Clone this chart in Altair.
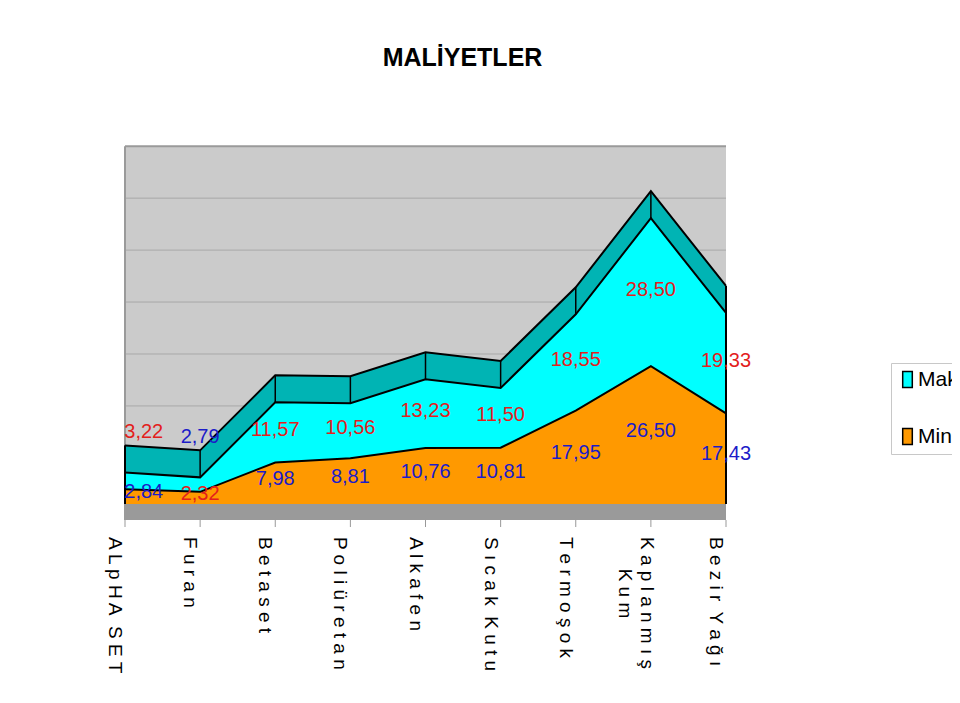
import altair as alt
import pandas as pd

# ---------------- data ----------------
categories = ["ALpHA SET", "Furan", "Betaset", "Poliüretan", "Alkafen",
              "Sıcak Kutu", "Termoşok", "Kaplanmış Kum", "Bezir Yağı"]
maks = [3.22, 2.79, 11.57, 10.56, 13.23, 11.50, 18.55, 28.50, 19.33]
minv = [2.84, 2.32, 7.98, 8.81, 10.76, 10.81, 17.95, 26.50, 17.43]
maks_label_color = ["red", "blue", "red", "red", "red", "red", "red", "red", "red"]
min_label_color = ["blue", "red", "blue", "blue", "blue", "blue", "blue", "blue", "blue"]
wrapped = {"Kaplanmış Kum"}

# ---------------- style constants ----------------
ARIAL = "Liberation Sans, Arial, sans-serif"
CYAN, ORANGE, TEAL = "#00FFFF", "#FF9900", "#00B4B4"
RED, BLUE = "#E3201C", "#1C1CC8"
FACE = 5.2       # depth of the series top face (value units)
WALL0 = 8.86     # back-wall zero level (value units)
FLOOR = -3.1
TOP = WALL0 + 60
N = len(categories)
W, H = 601, 374
NB = "\u00a0"
ZW = "\u200b"

idx = list(range(N))
total = [a + b for a, b in zip(minv, maks)]
df = pd.DataFrame({"idx": idx, "min": minv, "maks": maks, "total": total,
                   "face": [t + FACE for t in total]})

bands = pd.DataFrame(
    [{"idx": i, "series": "Min", "lo": 0.0, "hi": minv[i]} for i in idx] +
    [{"idx": i, "series": "Maks", "lo": minv[i], "hi": total[i]} for i in idx])


def spaced(s):
    return (NB + " ").join(" ".join(w) for w in s.split(" "))


def axis_text(c):
    if c in wrapped:
        lines = [" ".join(w) for w in c.split(" ")]
        longest = max(len(l) for l in lines)
        return "\n".join(ZW + NB * ((longest - len(l)) // 2) + l for l in lines)
    return spaced(c)


cats = pd.DataFrame({"idx": idx, "lab": [axis_text(c) for c in categories],
                     "multi": [c in wrapped for c in categories]})

cmap = {"red": RED, "blue": BLUE}
lab_rows = []
for i in idx:
    shift = 0.25 if i == 0 else 0.0
    if maks[i] >= 5:
        my = minv[i] + maks[i] / 2 + 0.5
    else:
        my = total[i] + FACE + 2.5
    lab_rows.append({"x": i + shift, "y": my, "t": f"{maks[i]:.2f}".replace(".", ","),
                     "c": cmap[maks_label_color[i]]})
    lab_rows.append({"x": i + shift, "y": minv[i] / 2 + 0.8,
                     "t": f"{minv[i]:.2f}".replace(".", ","), "c": cmap[min_label_color[i]]})
labels = pd.DataFrame(lab_rows)

grid = pd.DataFrame({"g": [WALL0 + 10 * k for k in range(1, 6)]})
frame = pd.DataFrame({"x0": [0], "x1": [N - 1], "w0": [WALL0], "w1": [TOP],
                      "f0": [FLOOR], "f1": [0.0]})

xs = alt.Scale(domain=[0, N - 1], nice=False, zero=False)
ys = alt.Scale(domain=[FLOOR, 68.9], nice=False, zero=False)

wall = alt.Chart(frame).mark_rect(color="#CBCBCB").encode(
    x=alt.X("x0:Q", scale=xs, axis=None), x2="x1:Q",
    y=alt.Y("w0:Q", scale=ys, axis=None), y2="w1:Q")
wall_top = alt.Chart(frame).mark_rule(color="#9A9A9A", strokeWidth=2).encode(
    x=alt.X("x0:Q", axis=None), x2="x1:Q", y=alt.Y("w1:Q", axis=None))
wall_left = alt.Chart(frame).mark_rule(color="#9A9A9A", strokeWidth=2).encode(
    x=alt.X("x0:Q", axis=None), y=alt.Y("f0:Q", axis=None), y2="w1:Q")
gridlines = alt.Chart(grid).mark_rule(color="#A8A8A8", strokeWidth=1).encode(
    x=alt.value(0), x2=alt.value(W), y=alt.Y("g:Q", axis=None))
floor = alt.Chart(frame).mark_rect(color="#9A9A9A").encode(
    x=alt.X("x0:Q", axis=None), x2="x1:Q", y=alt.Y("f0:Q", axis=None), y2="f1:Q")

top_face = alt.Chart(df).mark_area(color=TEAL, opacity=1).encode(
    x=alt.X("idx:Q", axis=None), y=alt.Y("face:Q", axis=None), y2="total:Q")

areas = alt.Chart(bands).mark_area(opacity=1).encode(
    x=alt.X("idx:Q", axis=None), y=alt.Y("hi:Q", axis=None), y2="lo:Q",
    fill=alt.Fill("series:N",
                  scale=alt.Scale(domain=["Maks", "Min"], range=[CYAN, ORANGE]),
                  legend=alt.Legend(title=None, orient="none", legendX=766, legendY=217,
                                    symbolType="M-1.2,-2H1.2V2H-1.2Z", symbolSize=64,
                                    symbolStrokeColor="black", symbolStrokeWidth=1.5,
                                    symbolOpacity=1, labelFont=ARIAL, labelFontSize=21,
                                    labelColor="black", labelOffset=0, rowPadding=34,
                                    padding=6, strokeColor="#C8C8C8", fillColor="white")),
    detail="series:N")


def edge(field):
    return alt.Chart(df).mark_line(color="black", strokeWidth=2).encode(
        x=alt.X("idx:Q", axis=None), y=alt.Y(f"{field}:Q", axis=None))


seg = alt.Chart(df).mark_rule(color="black", strokeWidth=1.5).encode(
    x=alt.X("idx:Q", axis=None), y=alt.Y("total:Q", axis=None), y2="face:Q")
sides = alt.Chart(df).transform_filter(
    (alt.datum.idx == 0) | (alt.datum.idx == N - 1)
).transform_calculate(zero="0").mark_rule(color="black", strokeWidth=2).encode(
    x=alt.X("idx:Q", axis=None), y=alt.Y("zero:Q", axis=None), y2="face:Q")

text = alt.Chart(labels).mark_text(font=ARIAL, fontSize=20, baseline="middle",
                                   align="center").encode(
    x=alt.X("x:Q", axis=None), y=alt.Y("y:Q", axis=None), text="t:N",
    color=alt.Color("c:N", scale=None))

# category axis: ticks + rotated labels placed through the x scale
ticks = alt.Chart(cats).mark_rule(color="#999999", strokeWidth=1).encode(
    x=alt.X("idx:Q", axis=None), y=alt.value(H), y2=alt.value(H + 7))


def cat_layer(multi, dy):
    return alt.Chart(cats).transform_filter(
        alt.datum.multi == multi
    ).mark_text(font=ARIAL, fontSize=19, angle=90, align="left", baseline="middle",
                lineBreak="\n", lineHeight=22, dy=dy, color="black").encode(
        x=alt.X("idx:Q", axis=None), y=alt.value(H + 17), text="lab:N")


chart = alt.layer(wall, gridlines, wall_top, wall_left, floor, top_face, areas,
                  edge("min"), edge("total"), edge("face"), seg, sides, text,
                  ticks, cat_layer(False, 10), cat_layer(True, 4)).properties(
    width=W, height=H,
    title=alt.TitleParams("MALİYETLER", font=ARIAL, fontSize=25, fontWeight="bold",
                          color="black", anchor="middle", frame="group", dx=37,
                          offset=54, baseline="alphabetic"),
    autosize=alt.AutoSizeParams(type="none"),
    padding={"left": 117, "top": 138, "right": 226, "bottom": 168},
    background="white",
).configure_view(stroke=None)

chart.save("out.html", embed_options={"renderer": "svg", "actions": False})
